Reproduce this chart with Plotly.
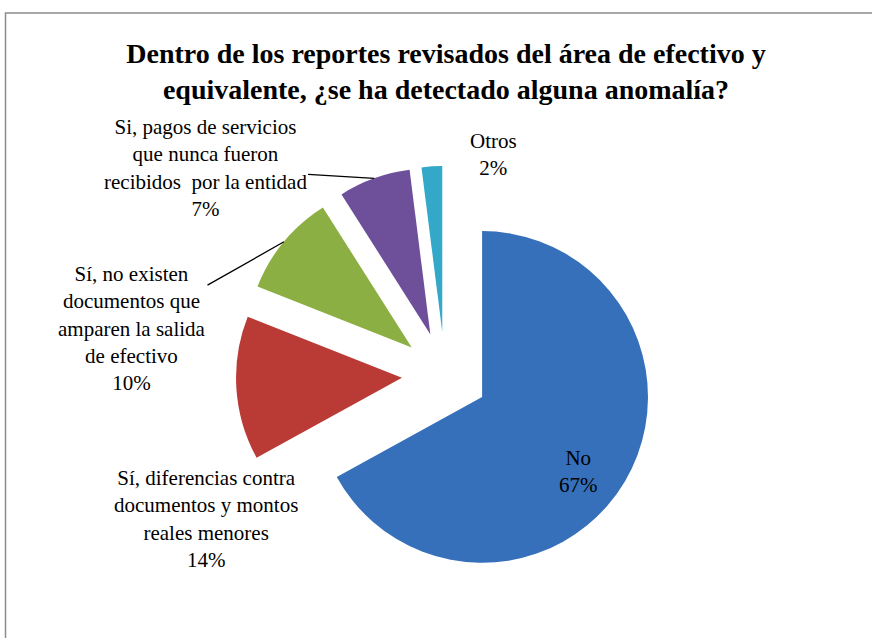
import math
import plotly.graph_objects as go

# ---- data ----
categories = [
    "No",
    "Sí, diferencias contra<br>documentos y montos<br>reales menores",
    "Sí, no existen<br>documentos que<br>amparen la salida<br>de efectivo",
    "Si, pagos de servicios<br>que nunca fueron<br>recibidos  por la entidad",
    "Otros",
]
values = [67, 14, 10, 7, 2]
colors = ["#3670BA", "#BA3A35", "#8CAF43", "#6E509A", "#33A8C8"]
title_text = ("Dentro de los reportes revisados del área de efectivo y<br>"
              "equivalente, ¿se ha detectado alguna anomalía?")

# ---- layout constants ----
W, H = 872, 638
PULL = 0.26
dom_x = [0.2706, 0.75]
dom_y = [0.0846, 0.7398]
FONT = "Liberation Serif"

# label centers (pixels) and whether a leader line is drawn
label_pos = [(578, 471), (206, 519), (132, 328), (205, 168), (493, 154)]
leader = [False, False, True, True, False]

fig = go.Figure(go.Pie(
    labels=categories,
    values=values,
    sort=False,
    direction="clockwise",
    rotation=0,
    pull=[PULL] * len(values),
    marker=dict(colors=colors, line=dict(width=0)),
    textinfo="none",
    hoverinfo="label+percent",
    domain=dict(x=dom_x, y=dom_y),
    showlegend=False,
))

# pie geometry as plotly computes it
boxW = W * (dom_x[1] - dom_x[0])
boxH = H * (dom_y[1] - dom_y[0])
r = min(boxW, boxH) / (2 + 2 * PULL)
cx = W * (dom_x[0] + dom_x[1]) / 2
cy = H * (1 - (dom_y[0] + dom_y[1]) / 2)

total = sum(values)
cum = 0
annotations = []
for i, (lab, v) in enumerate(zip(categories, values)):
    mid = 2 * math.pi * (cum + v / 2) / total
    cum += v
    pct = f"{round(100 * v / total)}%"
    text = f"{lab}<br>{pct}"
    lx, ly = label_pos[i]
    if leader[i]:
        tx = cx + (1 + PULL) * r * math.sin(mid)
        ty = cy - (1 + PULL) * r * math.cos(mid)
        annotations.append(dict(
            x=tx / W, y=1 - ty / H, xref="paper", yref="paper",
            ax=lx - tx, ay=ly - ty, text=text, showarrow=True,
            arrowhead=0, arrowwidth=1.3, arrowcolor="black", standoff=0,
            font=dict(family=FONT, size=21, color="black"), align="center",
        ))
    else:
        annotations.append(dict(
            x=lx / W, y=1 - ly / H, xref="paper", yref="paper",
            xanchor="center", yanchor="middle", text=text, showarrow=False,
            font=dict(family=FONT, size=21, color="black"), align="center",
        ))

fig.update_layout(
    width=W, height=H,
    margin=dict(l=0, r=0, t=0, b=0),
    paper_bgcolor="white",
    plot_bgcolor="white",
    font=dict(family=FONT),
    title=dict(text="<b>" + title_text + "</b>", x=446 / W, xanchor="center",
               y=1 - 63 / H, yanchor="middle",
               font=dict(family=FONT, size=28, color="black")),
    annotations=annotations,
    shapes=[dict(type="rect", xref="paper", yref="paper",
                 x0=5.5 / W, x1=1.05, y0=-0.05, y1=1 - 13 / H,
                 line=dict(color="#8c8c8c", width=1.5))],
)

fig.write_html("out.html")
